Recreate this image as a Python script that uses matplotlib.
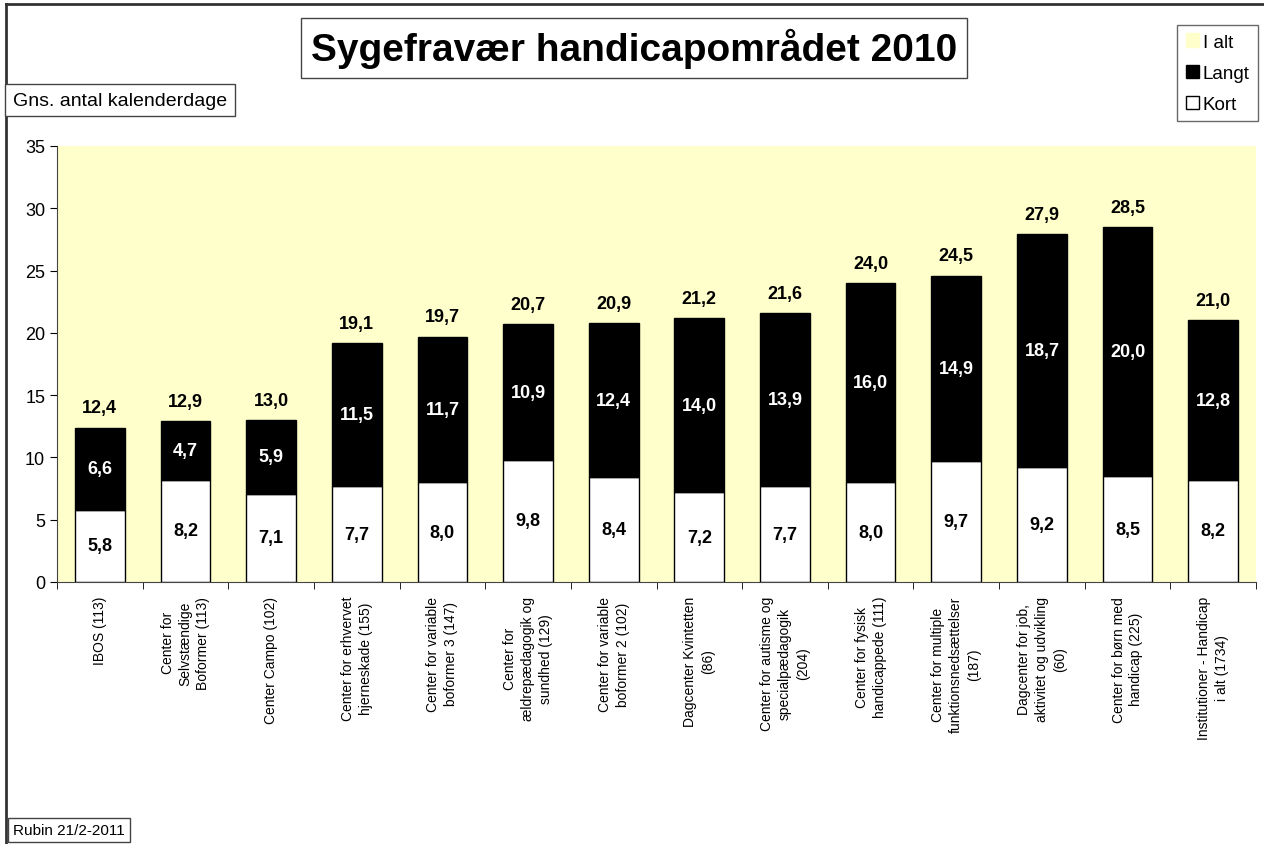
import matplotlib.pyplot as plt
from matplotlib.patches import Patch
from matplotlib.lines import Line2D

plt.rcParams['font.family'] = ['Liberation Sans', 'DejaVu Sans']

# data
categories = [
    'IBOS (113)',
    'Center for\nSelvstændige\nBoformer (113)',
    'Center Campo (102)',
    'Center for erhvervet\nhjerneskade (155)',
    'Center for variable\nboformer 3 (147)',
    'Center for\nældrepædagogik og\nsundhed (129)',
    'Center for variable\nboformer 2 (102)',
    'Dagcenter Kvintetten\n(86)',
    'Center for autisme og\nspecialpædagogik\n(204)',
    'Center for fysisk\nhandicappede (111)',
    'Center for multiple\nfunktionsnedsættelser\n(187)',
    'Dagcenter for job,\naktivitet og udvikling\n(60)',
    'Center for børn med\nhandicap (225)',
    'Institutioner - Handicap\ni alt (1734)',
]
kort = [5.8, 8.2, 7.1, 7.7, 8.0, 9.8, 8.4, 7.2, 7.7, 8.0, 9.7, 9.2, 8.5, 8.2]
langt = [6.6, 4.7, 5.9, 11.5, 11.7, 10.9, 12.4, 14.0, 13.9, 16.0, 14.9, 18.7, 20.0, 12.8]
i_alt = [12.4, 12.9, 13.0, 19.1, 19.7, 20.7, 20.9, 21.2, 21.6, 24.0, 24.5, 27.9, 28.5, 21.0]

YELLOW = '#FFFFCC'


def fmt(v):
    return f'{v:.1f}'.replace('.', ',')


W, H = 1264, 845
fig = plt.figure(figsize=(W / 100, H / 100), dpi=100)
ax = fig.add_axes([57 / W, 1 - 583 / H, (1256 - 57) / W, (583 - 147) / H])
ax.set_facecolor(YELLOW)

x = list(range(len(categories)))
width = 0.58
ax.bar(x, kort, width, color='white', edgecolor='black', linewidth=1)
ax.bar(x, langt, width, bottom=kort, color='black', edgecolor='black', linewidth=1)

for i in x:
    ax.text(i, kort[i] / 2, fmt(kort[i]), ha='center', va='center',
            fontsize=13, fontweight='bold', color='black')
    ax.text(i, kort[i] + langt[i] / 2, fmt(langt[i]), ha='center', va='center',
            fontsize=13, fontweight='bold', color='white')
    ax.annotate(fmt(i_alt[i]), (i, kort[i] + langt[i]), xytext=(0, 8),
                textcoords='offset points', ha='center', va='bottom',
                fontsize=13, fontweight='bold')

ax.set_xlim(-0.5, len(categories) - 0.5)
ax.set_ylim(0, 35)
ax.set_yticks(range(0, 36, 5))
ax.tick_params(axis='y', labelsize=13, length=5, direction='out')
ax.set_xticks(x)
ax.set_xticklabels(categories, rotation=90, fontsize=10, multialignment='center',
                   linespacing=1.35)
ax.tick_params(axis='x', length=0, pad=10)
ax.set_xticks([i - 0.5 for i in range(len(categories) + 1)], minor=True)
ax.tick_params(axis='x', which='minor', length=5, direction='out')
for s in ['top', 'right']:
    ax.spines[s].set_visible(False)
for s in ['left', 'bottom']:
    ax.spines[s].set_color('#444444')

# title and text boxes
fig.text(634 / W, 1 - 49 / H, 'Sygefravær handicapområdet 2010', ha='center', va='center',
         fontsize=28, fontweight='bold',
         bbox=dict(boxstyle='square,pad=0.25', facecolor='white', edgecolor='#444444'))
fig.text(120 / W, 1 - 101 / H, 'Gns. antal kalenderdage', ha='center', va='center',
         fontsize=14,
         bbox=dict(boxstyle='square,pad=0.4', facecolor='white', edgecolor='#444444'))
fig.text(69 / W, 1 - 831 / H, 'Rubin 21/2-2011', ha='center', va='center', fontsize=11,
         bbox=dict(boxstyle='square,pad=0.35', facecolor='white', edgecolor='#444444'))

handles = [
    Patch(facecolor=YELLOW, edgecolor=YELLOW, label='I alt'),
    Patch(facecolor='black', edgecolor='black', label='Langt'),
    Patch(facecolor='white', edgecolor='black', label='Kort'),
]
fig.legend(handles=handles, loc='upper right', bbox_to_anchor=(1258 / W, 1 - 26 / H),
           fontsize=13.5, frameon=True, fancybox=False, edgecolor='#444444',
           handlelength=0.7, handleheight=0.7, handletextpad=0.2,
           labelspacing=0.75, borderpad=0.45, borderaxespad=0)

# figure frame (top and left)
fig.add_artist(Line2D([6 / W, 1], [1 - 5 / H, 1 - 5 / H], color='#333333', lw=2))
fig.add_artist(Line2D([6 / W, 6 / W], [0, 1 - 5 / H], color='#333333', lw=2))

fig.savefig('out.png', dpi=100)
